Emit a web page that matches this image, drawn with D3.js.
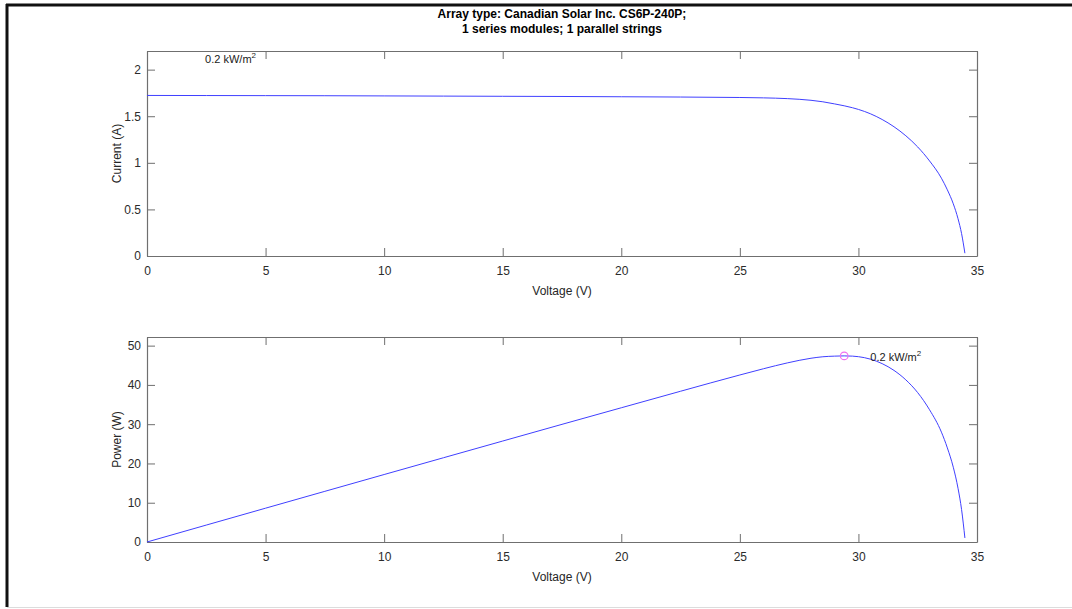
<!DOCTYPE html>
<html>
<head>
<meta charset="utf-8">
<script src="https://cdn.jsdelivr.net/npm/d3@7"></script>
<style>
	body { margin: 0; background: #fff; }
	svg { display: block; font-family: "Liberation Sans", Arial, Helvetica, sans-serif; }
	.axis path { stroke: #6f6f6f; }
	.axis line { stroke: #6f6f6f; }
	.axis-label { fill: #262626; font-size: 12px; }
	.title { fill: #000; font-size: 12px; font-weight: bold; }
	.note { fill: #1a1a1a; font-size: 11px; }
</style>
</head>
<body>
<div id="chart"></div>
<script>
// I-V / P-V curve of one CS6P-240P module at 0.2 kW/m2
const voltage = [0, 2.5, 5, 7.5, 10, 12.5, 15, 17.5, 20, 22.5, 25, 26, 27, 28, 28.5, 29, 29.4, 29.75,
	30, 30.5, 31, 31.5, 32, 32.5, 33, 33.5, 33.75, 34, 34.2, 34.35, 34.49];
const current = [1.723, 1.722, 1.721, 1.720, 1.718, 1.716, 1.714, 1.712, 1.709, 1.706, 1.701, 1.697, 1.689, 1.671, 1.655, 1.632, 1.612, 1.591,
	1.573, 1.527, 1.465, 1.387, 1.290, 1.170, 1.020, 0.835, 0.710, 0.560, 0.400, 0.240, 0.030];
const power = [0, 4.31, 8.61, 12.90, 17.18, 21.45, 25.71, 29.96, 34.18, 38.39, 42.53, 44.12, 45.60, 46.79, 47.17, 47.33, 47.39, 47.33,
	47.19, 46.57, 45.42, 43.69, 41.28, 38.03, 33.66, 27.97, 23.96, 19.04, 13.68, 8.24, 1.03];

// maximum power point
const mppVoltage = 29.4;
const mppPower = 47.39;

const irradianceLabel = '0.2 kW/m';
const titleLines = ['Array type: Canadian Solar Inc. CS6P-240P;', '1 series modules; 1 parallel strings'];

const xTicks = [0, 5, 10, 15, 20, 25, 30, 35];
const currentTicks = [0, 0.5, 1, 1.5, 2];
const powerTicks = [0, 10, 20, 30, 40, 50];

const W = 1072, H = 609;
const svg = d3.select('#chart').append('svg').attr('width', W).attr('height', H);

// frame around the figure
svg.append('line').attr('x1', 6).attr('x2', W).attr('y1', 5).attr('y2', 5)
	.style('stroke', '#111').style('stroke-width', 3);
svg.append('line').attr('x1', 7).attr('x2', 7).attr('y1', 4).attr('y2', 607)
	.style('stroke', '#111').style('stroke-width', 3);
svg.append('line').attr('x1', 7).attr('x2', W).attr('y1', 607.5).attr('y2', 607.5)
	.style('stroke', '#dcdcdc').style('stroke-width', 1);

svg.selectAll('.title').data(titleLines).enter().append('text')
	.attr('class', 'title')
	.attr('x', 562)
	.attr('y', (d, i) => 18 + i * 15)
	.attr('text-anchor', 'middle')
	.text(d => d);

function panel(opts) {
	const m = opts.box;
	const tick = 8;
	const g = svg.append('g');

	const x = d3.scaleLinear().domain([0, 35]).range([m.left, m.right]);
	const y = d3.scaleLinear().domain(opts.yDomain).range([m.bottom, m.top]);

	// box with inward ticks on every side
	g.append('g').attr('class', 'axis')
		.attr('transform', 'translate(0,' + m.bottom + ')')
		.call(d3.axisBottom(x).tickValues(xTicks).tickSizeInner(-tick).tickSizeOuter(0).tickPadding(10).tickFormat(d3.format('d')));
	g.append('g').attr('class', 'axis')
		.attr('transform', 'translate(0,' + m.top + ')')
		.call(d3.axisTop(x).tickValues(xTicks).tickSizeInner(-tick).tickSizeOuter(0).tickFormat(''));
	g.append('g').attr('class', 'axis')
		.attr('transform', 'translate(' + m.left + ',0)')
		.call(d3.axisLeft(y).tickValues(opts.yTicks).tickSizeInner(-tick).tickSizeOuter(0).tickPadding(6).tickFormat(d => d));
	g.append('g').attr('class', 'axis')
		.attr('transform', 'translate(' + m.right + ',0)')
		.call(d3.axisRight(y).tickValues(opts.yTicks).tickSizeInner(-tick).tickSizeOuter(0).tickFormat(''));
	g.selectAll('.domain').style('stroke-width', 1.2);
	g.selectAll('.axis text')
		.style('font-family', '"Liberation Sans", Arial, sans-serif')
		.style('font-size', '12px')
		.style('fill', '#2b2b2b');

	g.append('text').attr('class', 'axis-label')
		.attr('x', (m.left + m.right) / 2)
		.attr('y', m.bottom + 39)
		.attr('text-anchor', 'middle')
		.text('Voltage (V)');
	g.append('text').attr('class', 'axis-label')
		.attr('transform', 'translate(121,' + ((m.top + m.bottom) / 2) + ') rotate(-90)')
		.attr('text-anchor', 'middle')
		.text(opts.yLabel);

	const line = d3.line()
		.curve(d3.curveMonotoneX)
		.x((d, i) => x(voltage[i]))
		.y(d => y(d));
	g.append('path')
		.datum(opts.values)
		.attr('fill', 'none')
		.style('stroke', '#4040ff')
		.style('stroke-width', 1)
		.attr('d', line);

	const note = g.append('text').attr('class', 'note')
		.attr('x', x(opts.note[0]))
		.attr('y', y(opts.note[1]));
	note.append('tspan').text(irradianceLabel);
	note.append('tspan').attr('dy', -5).style('font-size', '8px').text('2');

	return { g, x, y };
}

panel({
	box: { left: 147, right: 977, top: 51, bottom: 256 },
	yDomain: [0, 2.2],
	yTicks: currentTicks,
	yLabel: 'Current (A)',
	values: current,
	note: [2.45, 2.07]
});

const pv = panel({
	box: { left: 147, right: 977, top: 337, bottom: 542 },
	yDomain: [0, 52.2],
	yTicks: powerTicks,
	yLabel: 'Power (W)',
	values: power,
	note: [30.5, 46.2]
});

pv.g.append('circle')
	.attr('cx', pv.x(mppVoltage))
	.attr('cy', pv.y(mppPower))
	.attr('r', 3.8)
	.attr('fill', 'none')
	.style('stroke', '#f070f0')
	.style('stroke-width', 1.2);
</script>
</body>
</html>
